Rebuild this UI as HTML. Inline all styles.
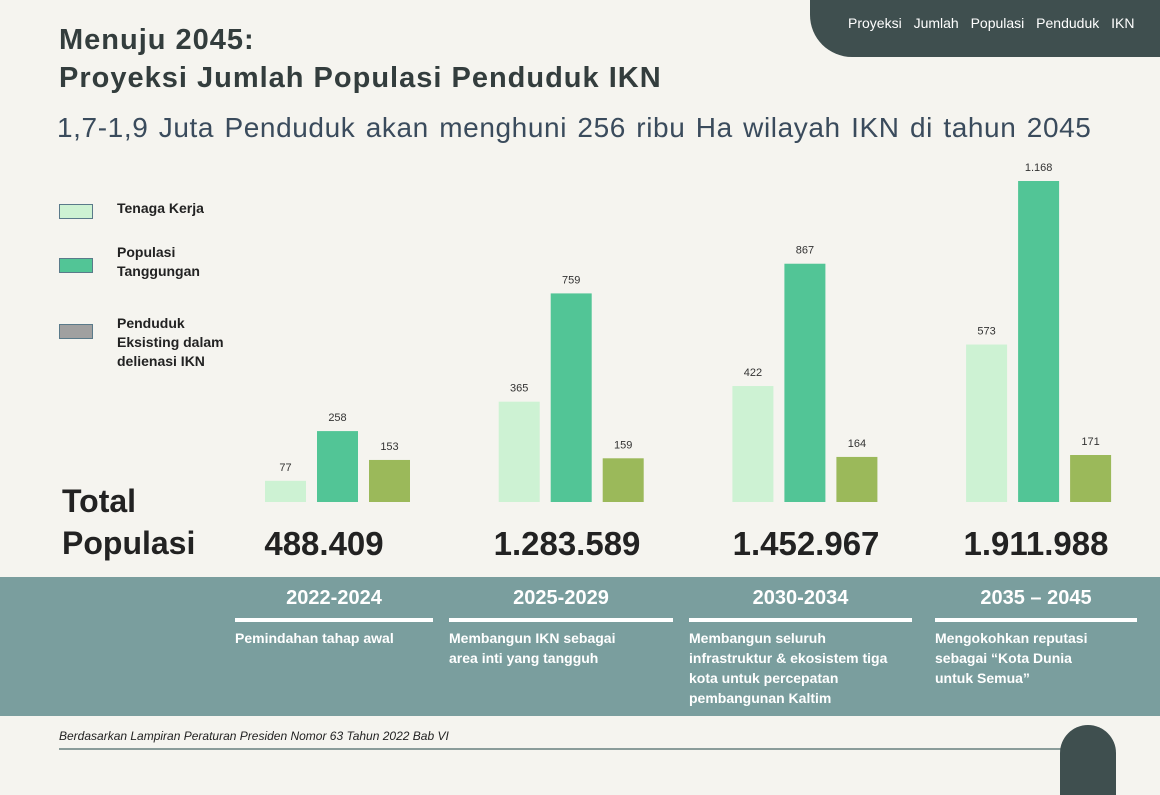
<!DOCTYPE html>
<html><head><meta charset="utf-8"><style>
*{margin:0;padding:0;box-sizing:border-box}
body{width:1160px;height:795px;background:#f5f4ef;font-family:"Liberation Sans",sans-serif;position:relative;overflow:hidden}
.abs{position:absolute}
.t{color:#333d3d;font-weight:bold}
.yr{color:#fff;font-weight:bold;font-size:20px;text-align:center;top:587px}
.ln{background:#fff;height:4px;top:618px}
.ds{color:#fff;font-weight:bold;font-size:14px;line-height:20px;top:628px;white-space:nowrap}
.tot{font-size:33px;font-weight:bold;color:#222;top:525px;text-align:center;width:220px}
.lg{font-size:14px;font-weight:bold;color:#222;left:117px;line-height:19px}
.sw{left:59px;width:34px;height:15px;border:1px solid #5a7a8a}
</style></head><body>
<div class="abs" style="left:810px;top:0;width:350px;height:57px;background:#3f4f4f;border-bottom-left-radius:42px"></div>
<div class="abs" style="left:848px;top:15px;color:#fff;font-size:14px;word-spacing:8px">Proyeksi Jumlah Populasi Penduduk IKN</div>
<div class="abs t" style="left:59px;top:21px;font-size:29px;line-height:38px;letter-spacing:1px">Menuju 2045:<br>Proyeksi Jumlah Populasi Penduduk IKN</div>
<div class="abs" style="left:57px;top:112px;font-size:28px;color:#3a4b5c;letter-spacing:0.6px;word-spacing:2px">1,7-1,9 Juta Penduduk akan menghuni 256 ribu Ha wilayah IKN di tahun 2045</div>

<div class="abs sw" style="top:204px;background:#cdf2d3"></div>
<div class="abs lg" style="top:199px">Tenaga Kerja</div>
<div class="abs sw" style="top:258px;background:#52c596"></div>
<div class="abs lg" style="top:243px">Populasi<br>Tanggungan</div>
<div class="abs sw" style="top:324px;background:#a0a0a0"></div>
<div class="abs lg" style="top:314px">Penduduk<br>Eksisting dalam<br>delienasi IKN</div>

<svg class="abs" style="left:0;top:0" width="1160" height="560" id="chart"></svg>

<div class="abs" style="left:62px;top:480px;font-size:32px;font-weight:bold;color:#222;line-height:42px">Total<br>Populasi</div>
<div id="totals"></div>

<div class="abs" style="left:0;top:577px;width:1160px;height:139px;background:#7a9e9e"></div>
<div class="abs yr" style="left:235px;width:198px">2022-2024</div>
<div class="abs yr" style="left:449px;width:224px">2025-2029</div>
<div class="abs yr" style="left:689px;width:223px">2030-2034</div>
<div class="abs yr" style="left:935px;width:202px">2035 – 2045</div>
<div class="abs ln" style="left:235px;width:198px"></div>
<div class="abs ln" style="left:449px;width:224px"></div>
<div class="abs ln" style="left:689px;width:223px"></div>
<div class="abs ln" style="left:935px;width:202px"></div>
<div class="abs ds" style="left:235px">Pemindahan tahap awal</div>
<div class="abs ds" style="left:449px">Membangun IKN sebagai<br>area inti yang tangguh</div>
<div class="abs ds" style="left:689px">Membangun seluruh<br>infrastruktur &amp; ekosistem tiga<br>kota untuk percepatan<br>pembangunan Kaltim</div>
<div class="abs ds" style="left:935px">Mengokohkan reputasi<br>sebagai “Kota Dunia<br>untuk Semua”</div>

<div class="abs" style="left:59px;top:729px;font-size:12px;font-style:italic;color:#222">Berdasarkan Lampiran Peraturan Presiden Nomor 63 Tahun 2022 Bab VI</div>
<div class="abs" style="left:59px;top:748px;width:1003px;height:2px;background:#8a9c9a"></div>
<div class="abs" style="left:1060px;top:725px;width:56px;height:70px;background:#3f4f4f;border-radius:28px 28px 0 0"></div>

<script>
const categories=["2022-2024","2025-2029","2030-2034","2035-2045"];
const tenagaKerja=[77,365,422,573];
const populasiTanggungan=[258,759,867,1168];
const pendudukEksisting=[153,159,164,171];
const totals=["488.409","1.283.589","1.452.967","1.911.988"];
const valueLabels=[["77","365","422","573"],["258","759","867","1.168"],["153","159","164","171"]];

const NS="http://www.w3.org/2000/svg";
const svg=document.getElementById('chart');
const base=502, scale=321/1168;
const y=v=>base-v*scale;
const gx=i=>265+i*233.7;
const totalCenters=[324,567,806,1036];
const series=[tenagaKerja,populasiTanggungan,pendudukEksisting];
const colors=["#cdf2d3","#52c596","#9bb95a"];
const names=["tenaga-kerja","populasi-tanggungan","penduduk-eksisting"];
series.forEach((s,si)=>{
  s.forEach((v,i)=>{
    const x=gx(i)+si*52;
    const r=document.createElementNS(NS,'rect');
    r.setAttribute('x',x);r.setAttribute('y',y(v));
    r.setAttribute('width',41);r.setAttribute('height',base-y(v));
    r.setAttribute('fill',colors[si]);
    
    
    svg.appendChild(r);
    const t=document.createElementNS(NS,'text');
    t.setAttribute('x',x+20.5);t.setAttribute('y',y(v)-10);
    t.setAttribute('text-anchor','middle');t.setAttribute('font-size','11');
    t.setAttribute('fill','#333');t.setAttribute('font-family','Liberation Sans, sans-serif');
    t.textContent=valueLabels[si][i];
    
    
    svg.appendChild(t);
  });
});
const tc=document.getElementById('totals');
totals.forEach((v,i)=>{
  const d=document.createElement('div');
  d.className='abs tot';
  d.style.left=(totalCenters[i]-110)+'px';
  d.textContent=v;
  
  
  tc.appendChild(d);
});
</script>
</body></html>
